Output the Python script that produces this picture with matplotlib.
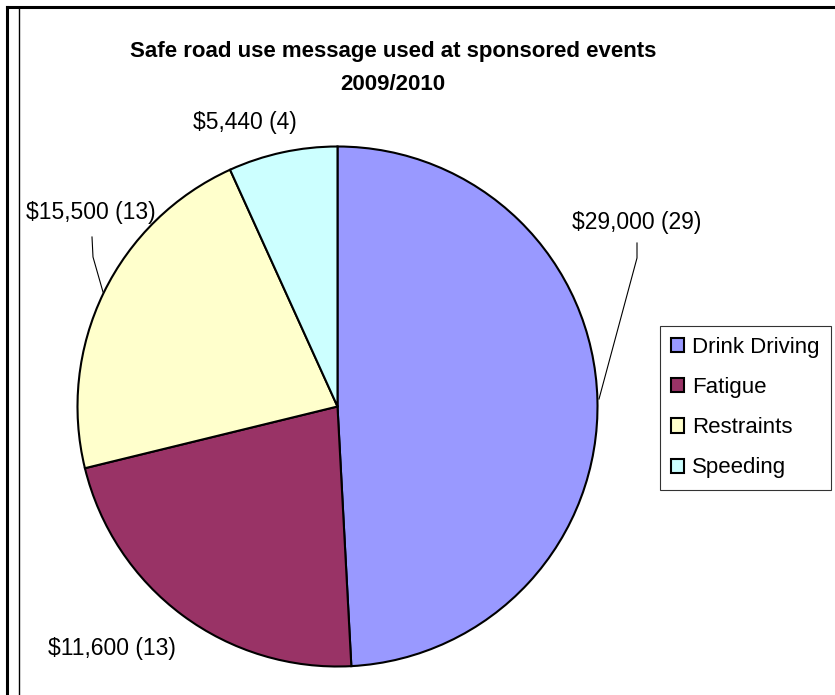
import matplotlib
matplotlib.use("Agg")
import matplotlib.pyplot as plt

# data
categories = ["Drink Driving", "Fatigue", "Restraints", "Speeding"]
event_counts = [29, 13, 13, 4]
spend_labels = ["$29,000 (29)", "$11,600 (13)", "$15,500 (13)", "$5,440 (4)"]
colors = ["#9999FF", "#993366", "#FFFFCC", "#CCFFFF"]

W, H = 835, 695
plt.rcParams['font.family'] = ['Liberation Sans', 'DejaVu Sans']

fig = plt.figure(figsize=(W / 100, H / 100), dpi=100)
ax = fig.add_axes([0, 0, 1, 1])


def py(y):
    # pixel row (from top) -> data y
    return H - y


wedges, _ = ax.pie(event_counts, colors=colors, startangle=90, counterclock=False,
                   center=(337.5, py(406.5)), radius=260,
                   wedgeprops=dict(edgecolor="black", linewidth=1.5))
ax.set_xlim(0, W)
ax.set_ylim(0, H)
ax.set_aspect("auto")
ax.axis("off")

# data labels (placed like the original)
label_pos = [(637, 222), (112, 648), (91, 213), (245, 122)]
for txt, (x, y) in zip(spend_labels, label_pos):
    ax.text(x, py(y), txt, fontsize=16.5, ha="center", va="center")

# leader lines
ax.plot([637, 637, 599], [py(243), py(258), py(399)], color="black", lw=0.8)
ax.plot([92, 93, 103], [py(237), py(257), py(292)], color="black", lw=0.8)

# title
ax.text(393, py(51), "Safe road use message used at sponsored events",
        fontsize=16, fontweight="bold", ha="center", va="center")
ax.text(393, py(84), "2009/2010", fontsize=16, fontweight="bold",
        ha="center", va="center")

# legend
leg = ax.legend(wedges, categories, loc="upper left",
                bbox_to_anchor=(660 / W, 1 - 326 / H), bbox_transform=fig.transFigure,
                fontsize=16, frameon=True, fancybox=False, shadow=False,
                handlelength=0.6, handleheight=0.6, handletextpad=0.35,
                labelspacing=0.86, borderpad=0.5, borderaxespad=0)
leg.get_frame().set_edgecolor("black")
leg.get_frame().set_linewidth(0.8)

# outer frame lines
ax.plot([7, W], [py(7), py(7)], color="black", lw=2.2)
ax.plot([7, 7], [py(7), 0], color="black", lw=2.2)
ax.plot([19, 19], [py(8), 0], color="black", lw=1.0)

fig.savefig("out.png", dpi=100)
